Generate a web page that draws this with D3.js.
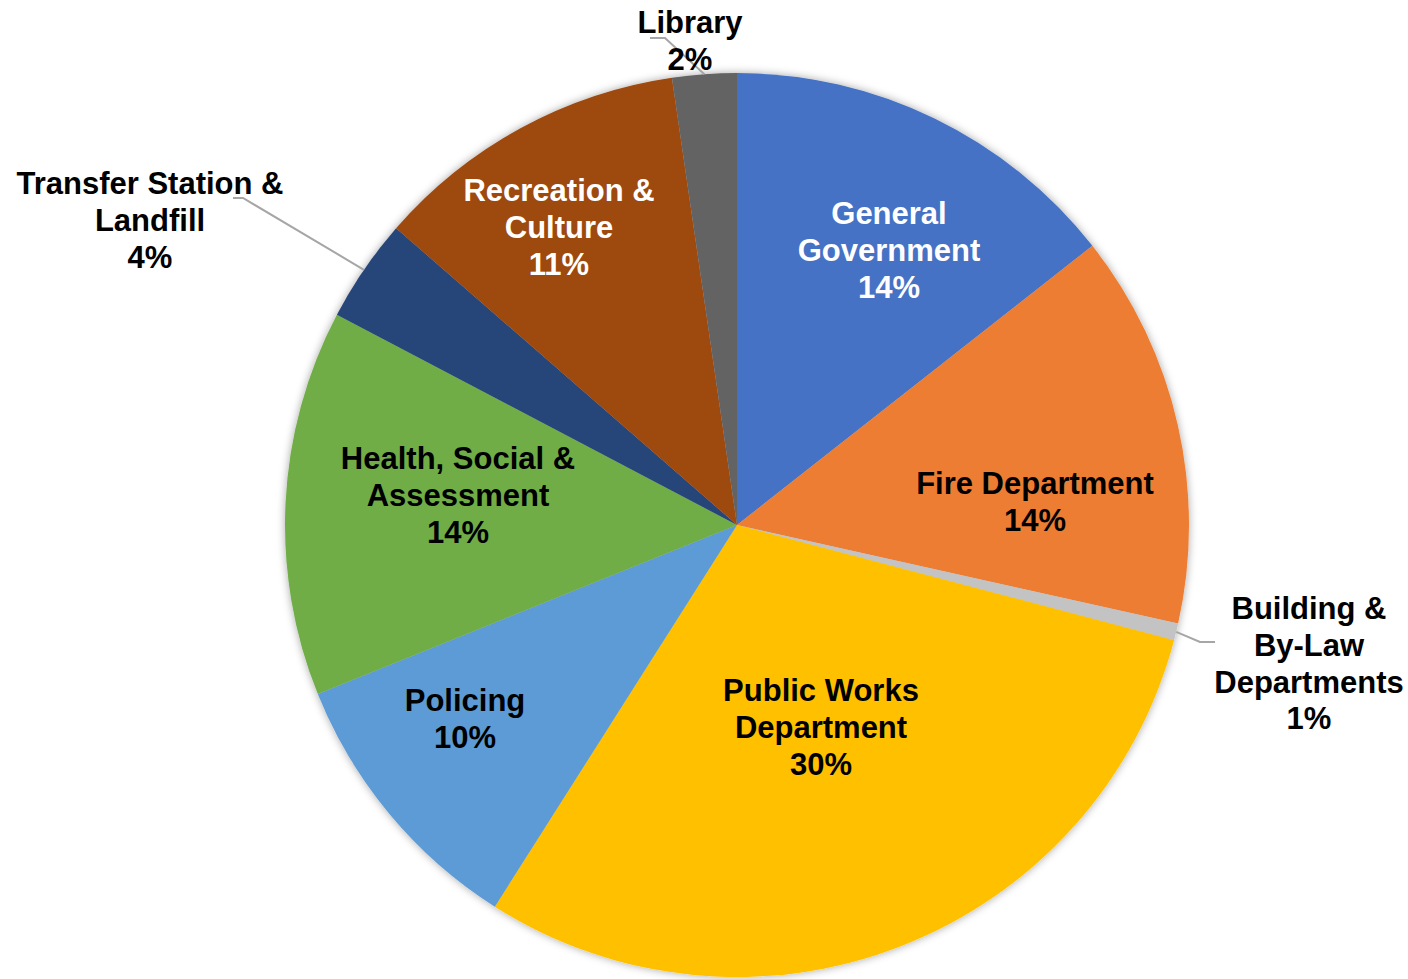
<!DOCTYPE html>
<html>
<head>
<meta charset="utf-8">
<script src="https://cdn.jsdelivr.net/npm/d3@7"></script>
<style>
  body { margin: 0; background: #fff; }
  text { font-family: "Liberation Sans", Arial, sans-serif; font-weight: bold; }
</style>
</head>
<body>
<div id="chart"></div>
<script>
var w = 1408;
var h = 979;

// Data (share of budget, clockwise from 12 o'clock)
var categories = [
    "General Government", "Fire Department", "Building & By-Law Departments",
    "Public Works Department", "Policing", "Health, Social & Assessment",
    "Transfer Station & Landfill", "Recreation & Culture", "Library"
];
var values = [14.4, 14.1, 0.6, 29.9, 9.9, 13.8, 3.7, 11.3, 2.3];
var percentLabels = ["14%", "14%", "1%", "30%", "10%", "14%", "4%", "11%", "2%"];
var labelLines = [
    ["General", "Government"],
    ["Fire Department"],
    ["Building &", "By-Law", "Departments"],
    ["Public Works", "Department"],
    ["Policing"],
    ["Health, Social &", "Assessment"],
    ["Transfer Station &", "Landfill"],
    ["Recreation &", "Culture"],
    ["Library"]
];

// Layout (not data)
var colors = ["#4472C4", "#ED7D31", "#C3C3C3", "#FFC000", "#5B9BD5",
              "#70AD47", "#264478", "#9E480E", "#636363"];
var textColors = ["#fff", "#000", "#000", "#000", "#000", "#000", "#000", "#fff", "#000"];
// label block centre, offset from pie centre
var labelOffsets = [[152, -275], [298, -24], [572, 138], [84, 202], [-272, 193],
                    [-279, -30], [-587, -305], [-178, -298], [-47, -485]];
// leader lines for outside labels: [start, elbow] relative to label centre
var leaders = { 2: [[-94, -21], [-109, -21]], 6: [[83, -22], [93, -22]], 8: [[-40, -2], [-25, -2]] };

var cx = 737, cy = 525, radius = 452;
var fontSize = 31, lineH = 36.7;

var svg = d3.select("#chart")
    .append("svg")
    .attr("width", w)
    .attr("height", h);

var defs = svg.append("defs");
var filter = defs.append("filter").attr("id", "shadow")
    .attr("x", "-10%").attr("y", "-10%").attr("width", "120%").attr("height", "120%");
filter.append("feDropShadow")
    .attr("dx", 0).attr("dy", 0)
    .attr("stdDeviation", 4)
    .attr("flood-color", "#000")
    .attr("flood-opacity", 0.35);

var g = svg.append("g")
    .attr("transform", "translate(" + cx + "," + cy + ")");

var pie = d3.pie().sort(null).value(function(d) { return d; });
var arcs = pie(values);

var arc = d3.arc().innerRadius(0).outerRadius(radius);
var edge = d3.arc().innerRadius(radius).outerRadius(radius);

g.append("g")
    .attr("filter", "url(#shadow)")
    .selectAll("path")
    .data(arcs)
    .enter()
    .append("path")
    .attr("d", arc)
    .attr("fill", function(d, i) { return colors[i]; });

// Leader lines
Object.keys(leaders).forEach(function(k) {
    var i = +k;
    var off = labelOffsets[i];
    var a = arcs[i];
    var mid = (a.startAngle + a.endAngle) / 2;
    var end = [radius * Math.sin(mid), -radius * Math.cos(mid)];
    var pts = [
        [off[0] + leaders[i][0][0], off[1] + leaders[i][0][1]],
        [off[0] + leaders[i][1][0], off[1] + leaders[i][1][1]],
        end
    ];
    g.append("path")
        .attr("d", d3.line()(pts))
        .attr("fill", "none")
        .attr("stroke", "#A6A6A6")
        .attr("stroke-width", 2);
});

// Labels
arcs.forEach(function(a, i) {
    var lines = labelLines[i].concat([percentLabels[i]]);
    var off = labelOffsets[i];
    var top = off[1] - (lines.length - 1) * lineH / 2;
    var t = g.append("text")
        .attr("text-anchor", "middle")
        .attr("fill", textColors[i])
        .style("font-size", fontSize + "px");
    lines.forEach(function(line, j) {
        t.append("tspan")
            .attr("x", off[0])
            .attr("y", top + j * lineH + fontSize * 0.36)
            .text(line);
    });
});
</script>
</body>
</html>
